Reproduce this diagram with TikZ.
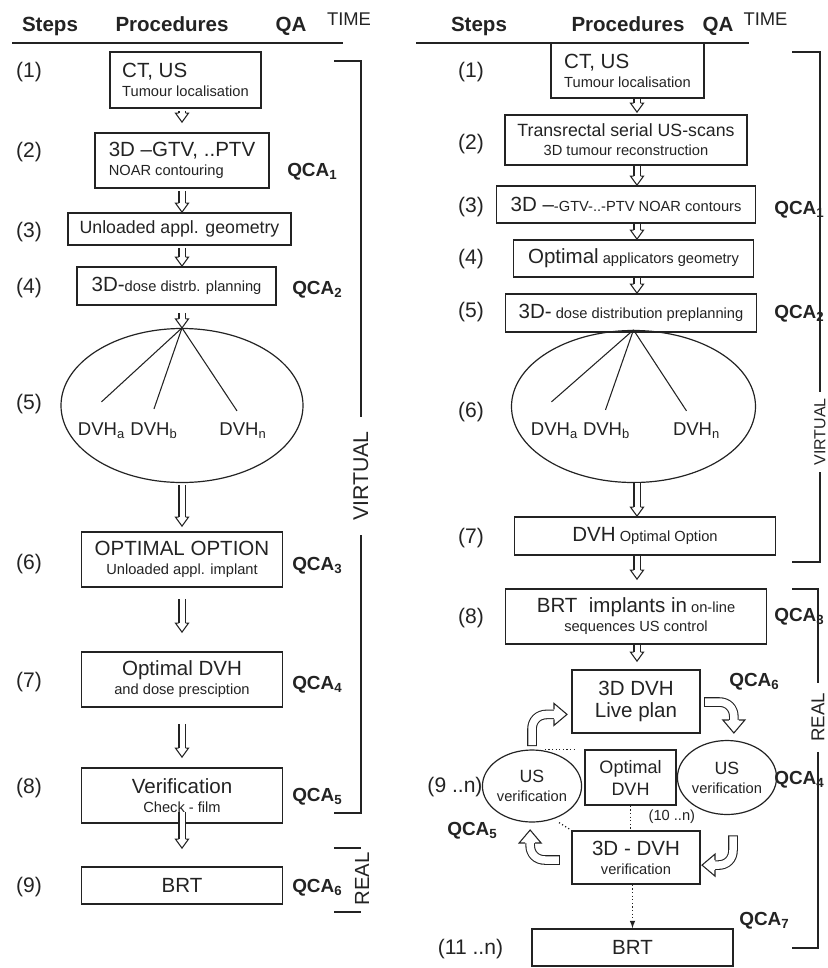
\documentclass[tikz,border=0pt]{standalone}
\usepackage{fontspec}
\setmainfont{Liberation Sans}
\usetikzlibrary{shapes.geometric, calc}

\newdimen\unitpx \unitpx=0.75pt
\newcommand{\fbig}{\fontsize{15.4}{17}\selectfont}
\newcommand{\fmid}{\fontsize{13.3}{15}\selectfont}
\newcommand{\fsmall}{\fontsize{11}{14.2}\selectfont}
\newcommand{\fhead}{\fontsize{15.4}{17}\selectfont\bfseries}
\newcommand{\fstep}{\fontsize{15.8}{18}\selectfont}
\newcommand{\fqca}{\fontsize{14.2}{16}\selectfont\bfseries}
\newcommand{\fdvh}{\fontsize{13.9}{16}\selectfont}
\newcommand{\ftime}{\fontsize{13.8}{16}\selectfont}

\tikzstyle{block} = [draw, rectangle, line width=1.3pt, align=center, font=\fsmall, inner sep=1pt]
\tikzstyle{oval} = [draw, ellipse, line width=0.9pt, align=center, font=\fsmall, inner sep=0pt]
\tikzstyle{hollow} = [draw, double=white, double distance=5\unitpx, line width=0.8pt, shorten >=8.5\unitpx]
\tikzstyle{bent} = [draw, double=white, double distance=7.5\unitpx, line width=0.8pt, line cap=rect]
\tikzstyle{dots} = [draw, line width=0.9pt, dash pattern=on 0.9pt off 1.8pt]
\tikzstyle{arrow} = [draw, -latex]
\tikzstyle{qca} = [anchor=west, font=\fqca, inner sep=0pt]
\tikzstyle{stepno} = [font=\fstep, inner sep=0pt]
\tikzstyle{head} = [anchor=base, font=\fhead, inner sep=0pt]
\tikzstyle{dvh} = [font=\fdvh, inner sep=0pt]
\tikzset{
  tip/.pic={\filldraw[fill=white, line width=0.8pt] (-9,-3.5) -- (-9,-6.5) -- (0,0) -- (-9,6.5) -- (-9,3.5);},
  bigtip/.pic={\filldraw[fill=white, line width=0.8pt] (0,-5) -- (0,-11) -- (13,0) -- (0,11) -- (0,5);}
}
\newcommand{\hollowdown}[2]{\draw[hollow] #1 -- #2; \path #2 pic[rotate=-90]{tip};}
\definecolor{ink}{RGB}{35,35,35}

\begin{document}
\begin{tikzpicture}[x=\unitpx, y=-\unitpx, color=ink]
	\useasboundingbox (0,0) rectangle (828,968);
	\coordinate (lcol) at (182,0);
	\coordinate (rcol) at (637,0);

	% left column: headers
	\node [head] (lsteps) at (50,31.5) {Steps};
	\node [head] (lproc) at (172,31.5) {Procedures};
	\node [head] (lqa) at (291,31.5) {QA};
	\node [anchor=base, font=\ftime, inner sep=0pt] (ltime) at (349,25) {TIME};
	\draw [line width=0.9pt] (12,43) -- (343,43);

	\node [stepno] (ls1) at (29,72) {(1)};
	\node [stepno] (ls2) at (29,152) {(2)};
	\node [stepno] (ls3) at (29,232) {(3)};
	\node [stepno] (ls4) at (29,288) {(4)};
	\node [stepno] (ls5) at (29,404) {(5)};
	\node [stepno] (ls6) at (29,564) {(6)};
	\node [stepno] (ls7) at (29,682) {(7)};
	\node [stepno] (ls8) at (29,788) {(8)};
	\node [stepno] (ls9) at (29,887) {(9)};

	\node [block, align=left, minimum width=151\unitpx, minimum height=56\unitpx] (L1) at (185.5,80) {{\fbig CT, US}\\Tumour localisation};
	\node [block, align=left, below of=L1, node distance=80.5\unitpx, xshift=-3.5\unitpx, minimum width=174\unitpx, minimum height=55\unitpx] (L2) {{\fbig 3D –GTV, ..PTV}\\NOAR contouring};
	\node [block, font=\fmid, below of=L2, node distance=68.5\unitpx, xshift=-2.5\unitpx, minimum width=223\unitpx, minimum height=32\unitpx] (L3) {Unloaded appl. geometry};
	\node [block, below of=L3, node distance=57\unitpx, xshift=-3\unitpx, minimum width=199\unitpx, minimum height=38\unitpx] (L4) {{\fbig 3D-}dose distrb. planning};
	\node [oval, below of=L4, node distance=119.5\unitpx, xshift=5.5\unitpx, minimum width=242\unitpx, minimum height=154\unitpx] (L5) {};
	\node [block, below of=L5, node distance=154\unitpx, minimum width=201\unitpx, minimum height=55\unitpx] (L6) {{\fbig OPTIMAL OPTION}\\Unloaded appl. implant};
	\node [block, below of=L6, node distance=120\unitpx, minimum width=201\unitpx, minimum height=55\unitpx] (L7) {{\fbig Optimal DVH}\\and dose presciption};
	\node [block, below of=L7, node distance=116\unitpx, minimum width=201\unitpx, minimum height=55\unitpx] (L8) {{\fbig Verification}\\Check - film};
	\node [block, font=\fbig, below of=L8, node distance=90\unitpx, minimum width=201\unitpx, minimum height=37\unitpx] (L9) {BRT};

	\node [dvh] (dvhaL) at ($(L5.center)+(-80.5,25.5)$) {DVH\textsubscript{a}};
	\node [dvh] (dvhbL) at ($(L5.center)+(-28,25.5)$) {DVH\textsubscript{b}};
	\node [dvh] (dvhnL) at ($(L5.center)+(61,25.5)$) {DVH\textsubscript{n}};
	\draw [line width=0.8pt] (L5.north) -- ($(dvhaL.north)+(0,-21)$);
	\draw [line width=0.8pt] (L5.north) -- ($(dvhbL.north)+(0,-14)$);
	\draw [line width=0.8pt] (L5.north) -- ($(dvhnL.north)+(-6,-12)$);

	\hollowdown{($(lcol |- L1.south)+(0,2)$)}{($(lcol |- L2.north)+(0,-10)$)}
	\hollowdown{($(lcol |- L2.south)+(0,2)$)}{(lcol |- L3.north)}
	\hollowdown{($(lcol |- L3.south)+(0,2)$)}{(lcol |- L4.north)}
	\hollowdown{($(lcol |- L4.south)+(0,7)$)}{(lcol |- L5.north)}
	\hollowdown{($(lcol |- L5.south)+(0,2)$)}{($(lcol |- L6.north)+(0,-5)$)}
	\hollowdown{($(lcol |- L6.south)+(0,11)$)}{($(lcol |- L7.north)+(0,-19)$)}
	\hollowdown{($(lcol |- L7.south)+(0,16)$)}{($(lcol |- L8.north)+(0,-10)$)}
	\hollowdown{($(lcol |- L8.south)+(0,-12)$)}{($(lcol |- L9.north)+(0,-18)$)}

	\node [qca] (qca1L) at (287,172) {QCA\textsubscript{1}};
	\node [qca] (qca2L) at (292,290) {QCA\textsubscript{2}};
	\node [qca] (qca3L) at (292,566) {QCA\textsubscript{3}};
	\node [qca] (qca4L) at (292,685) {QCA\textsubscript{4}};
	\node [qca] (qca5L) at (292,797) {QCA\textsubscript{5}};
	\node [qca] (qca6L) at (292,888) {QCA\textsubscript{6}};

	% left column: time brackets
	\node [rotate=90, font=\fontsize{16}{18}\selectfont, inner xsep=10.5pt, inner ysep=0pt] (virtL) at (361,476) {VIRTUAL};
	\draw [line width=0.9pt] (334,61) -| (virtL.east);
	\draw [line width=0.9pt] (virtL.west) |- (334,813);
	\node [rotate=90, font=\fontsize{15.3}{17}\selectfont, inner sep=0pt] (realL) at (362,879) {REAL};
	\draw [line width=0.9pt] (334,848) -- (361,848);
	\draw [line width=0.9pt] (334,912) -- (361,912);

	% right column: headers
	\node [head] (rsteps) at (479,31.5) {Steps};
	\node [head] (rproc) at (628,31.5) {Procedures};
	\node [head] (rqa) at (718,31.5) {QA};
	\node [anchor=base, font=\ftime, inner sep=0pt] (rtime) at (765.5,25) {TIME};
	\draw [line width=0.9pt] (416,43) -- (749,43);

	\node [stepno] (rs1) at (471,72) {(1)};
	\node [stepno] (rs2) at (471,144) {(2)};
	\node [stepno] (rs3) at (471,207) {(3)};
	\node [stepno] (rs4) at (471,259) {(4)};
	\node [stepno] (rs5) at (471,312) {(5)};
	\node [stepno] (rs6) at (471,412) {(6)};
	\node [stepno] (rs7) at (471,538) {(7)};
	\node [stepno] (rs8) at (471,618) {(8)};
	\node [stepno] (rs9) at (455,787) {(9 ..n)};
	\node [stepno] (rs11) at (470.5,949) {(11 ..n)};

	\node [block, align=left, minimum width=153\unitpx, minimum height=55\unitpx] (R1) at (627.5,70.5) {{\fbig CT, US}\\Tumour localisation};
	\node [block, below of=R1, node distance=69.5\unitpx, xshift=-1.5\unitpx, minimum width=242\unitpx, minimum height=50\unitpx] (R2) {{\fmid Transrectal serial US-scans}\\3D tumour reconstruction};
	\node [block, below of=R2, node distance=64.5\unitpx, minimum width=259\unitpx, minimum height=37\unitpx] (R3) {{\fbig 3D –}-GTV-..-PTV NOAR contours};
	\node [block, below of=R3, node distance=54\unitpx, xshift=7.5\unitpx, minimum width=240\unitpx, minimum height=37\unitpx] (R4) {{\fbig Optimal} applicators geometry};
	\node [block, below of=R4, node distance=54.5\unitpx, xshift=-2.5\unitpx, minimum width=251\unitpx, minimum height=38\unitpx] (R5) {{\fbig 3D-} dose distribution preplanning};
	\node [oval, below of=R5, node distance=93.5\unitpx, xshift=2.5\unitpx, minimum width=244\unitpx, minimum height=152\unitpx] (R6) {};
	\node [block, below of=R6, node distance=129.5\unitpx, xshift=11.5\unitpx, minimum width=261\unitpx, minimum height=38\unitpx] (R7) {{\fbig DVH} Optimal Option};
	\node [block, below of=R7, node distance=80.5\unitpx, xshift=-9\unitpx, minimum width=261\unitpx, minimum height=55\unitpx] (R8) {{\fbig BRT\ \ implants in} on-line\\sequences US control};
	\node [block, font=\fbig, below of=R8, node distance=85\unitpx, minimum width=128\unitpx, minimum height=63\unitpx] (live) {3D DVH\\Live plan};
	\node [block, font=\fontsize{13.5}{16.5}\selectfont, below of=live, node distance=76\unitpx, xshift=-5.5\unitpx, minimum width=91\unitpx, minimum height=55\unitpx] (optdvh) {Optimal\\DVH};
	\node [oval, left of=optdvh, node distance=98.5\unitpx, yshift=-8.5\unitpx, minimum width=96\unitpx, minimum height=72\unitpx] (usl) {{\fmid US}\\verification};
	\node [oval, right of=optdvh, node distance=96.5\unitpx, minimum width=94\unitpx, minimum height=74\unitpx] (usr) {{\fmid US}\\verification};
	\node [block, below of=live, node distance=156\unitpx, minimum width=128\unitpx, minimum height=53\unitpx] (verify) {{\fbig 3D - DVH}\\verification};
	\node [block, font=\fbig, below of=verify, node distance=90\unitpx, xshift=-3.5\unitpx, minimum width=201\unitpx, minimum height=37\unitpx] (brtR) {BRT};

	\node [dvh] (dvhaR) at ($(R6.center)+(-79,24.5)$) {DVH\textsubscript{a}};
	\node [dvh] (dvhbR) at ($(R6.center)+(-27,24.5)$) {DVH\textsubscript{b}};
	\node [dvh] (dvhnR) at ($(R6.center)+(63,24.5)$) {DVH\textsubscript{n}};
	\draw [line width=0.8pt] (R6.north) -- ($(dvhaR.north)+(-3,-21)$);
	\draw [line width=0.8pt] (R6.north) -- ($(dvhbR.north)+(-1,-13)$);
	\draw [line width=0.8pt] (R6.north) -- ($(dvhnR.north)+(-10,-12)$);

	\hollowdown{(rcol |- R1.south)}{($(rcol |- R2.north)+(0,-2)$)}
	\hollowdown{(rcol |- R2.south)}{(rcol |- R3.north)}
	\hollowdown{(rcol |- R3.south)}{(rcol |- R4.north)}
	\hollowdown{(rcol |- R4.south)}{(rcol |- R5.north)}
	\hollowdown{(rcol |- R6.south)}{(rcol |- R7.north)}
	\hollowdown{(rcol |- R7.south)}{($(rcol |- R8.north)+(0,-9)$)}
	\hollowdown{(rcol |- R8.south)}{($(rcol |- live.north)+(0,-8)$)}

	% loop round the live plan
	\draw [bent] ($(usl.north)+(0,-8)$) -- ++(0,-12) .. controls +(0,-9) and +(-9,0) .. ++(15,-15) -- ++(7,0) coordinate (tlend);
	\path (tlend) pic {bigtip};
	\draw [bent] ($(live.east)+(8,0.5)$) -- ++(10,0) .. controls +(9,0) and +(0,-9) .. ++(15,15) -- ++(0,3) coordinate (trend);
	\path (trend) pic[rotate=-90] {bigtip};
	\draw [bent] ($(usr.south)+(6,25)$) -- ++(0,10) .. controls +(0,9) and +(9,0) .. ++(-15,15) -- ++(-3,0) coordinate (brend);
	\path (brend) pic[rotate=180] {bigtip};
	\draw [bent] ($(verify.west)+(-16,2.5)$) -- ++(-10,0) .. controls +(-9,0) and +(0,9) .. ++(-15,-15) -- ++(0,-2) coordinate (blend);
	\path (blend) pic[rotate=90] {bigtip};

	\draw [dots] (usl.70 |- optdvh.north west) -- ($(optdvh.north west)+(-8,0)$);
	\draw [dots] (optdvh.south) -- (optdvh.south |- verify.north);
	\draw [dots] ($(usl.south)+(27,0)$) -- (verify.north west);
	\draw [dots, arrow] (brtR.north |- verify.south) -- (brtR.north);
	\node [font=\fsmall, inner sep=0pt] (iter) at ($(optdvh.south east)+(-5,11)$) {(10 ..n)};

	\node [qca] (qca1R) at (774,210) {QCA\textsubscript{1}};
	\node [qca] (qca2R) at (774,314) {QCA\textsubscript{2}};
	\node [qca] (qca3R) at (774,617) {QCA\textsubscript{3}};
	\node [qca] (qca6R) at (729,682) {QCA\textsubscript{6}};
	\node [qca] (qca4R) at (774,780) {QCA\textsubscript{4}};
	\node [qca] (qca5R) at (447,831) {QCA\textsubscript{5}};
	\node [qca] (qca7R) at (739,921) {QCA\textsubscript{7}};

	% right column: time brackets
	\node [rotate=90, font=\fontsize{12}{14}\selectfont, inner xsep=4.7pt, inner ysep=0pt] (virtR) at (820,432) {VIRTUAL};
	\draw [line width=0.9pt] (792,52) -| (virtR.east);
	\draw [line width=0.9pt] (virtR.west) |- (792,562);
	\node [rotate=90, font=\fontsize{14}{16}\selectfont, inner xsep=7.3pt, inner ysep=0pt] (realR) at (818,717.5) {REAL};
	\draw [line width=0.9pt] (792,589) -| (realR.east);
	\draw [line width=0.9pt] (realR.west) |- (792,948);
\end{tikzpicture}
\end{document}
